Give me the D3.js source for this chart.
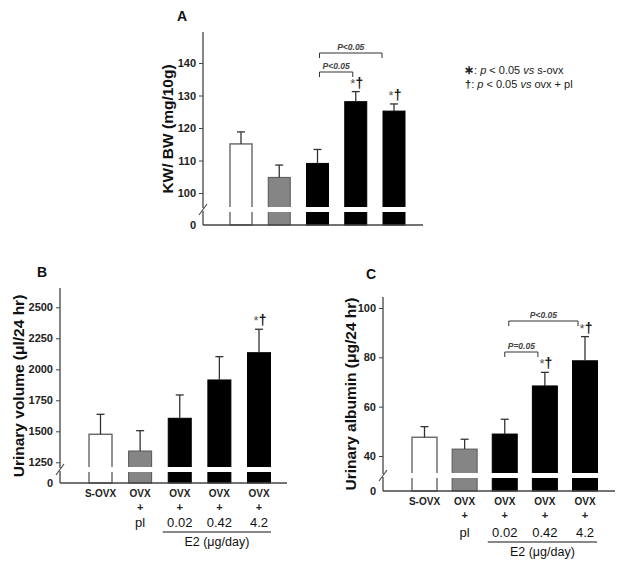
<!DOCTYPE html>
<html><head><meta charset="utf-8">
<script src="https://cdn.jsdelivr.net/npm/d3@7"></script>
<style>
body{margin:0;background:#fff;}
svg{display:block;font-family:"Liberation Sans",Arial,sans-serif;}
</style></head>
<body>
<svg id="chart" width="624" height="565"></svg>
<script>
// ---- data ----
const groups = ["S-OVX", "OVX + pl", "OVX + 0.02", "OVX + 0.42", "OVX + 4.2"];
const labelLine1 = ["S-OVX", "OVX", "OVX", "OVX", "OVX"];
const labelLine2 = ["", "+", "+", "+", "+"];
const labelLine3 = ["", "pl", "0.02", "0.42", "4.2"];
const barFills = ["#ffffff", "#858585", "#000000", "#000000", "#000000"];

const kwbwMean = [115.1, 104.8, 109.1, 128.1, 125.2];
const kwbwErr  = [3.7, 3.8, 4.3, 3.1, 2.2];
const kwbwTicks = [100, 110, 120, 130, 140];
const kwbwSig = ["", "", "", "*†", "*†"];

const volMean = [1476, 1341, 1605, 1914, 2134];
const volErr  = [161, 164, 188, 188, 189];
const volTicks = [1250, 1500, 1750, 2000, 2250, 2500];
const volSig = ["", "", "", "", "*†"];

const albMean = [47.6, 42.8, 48.9, 68.4, 78.6];
const albErr  = [4.3, 4.0, 6.0, 5.5, 9.8];
const albTicks = [40, 60, 80, 100];
const albSig = ["", "", "", "*†", "*†"];

const svg = d3.select("#chart");
const axisColor = "#444";
const tickColor = "#222";

function drawPanel(cfg) {
  const g = svg.append("g");
  const y = d3.scaleLinear().domain([cfg.t0, cfg.t1]).range([cfg.y0, cfg.y1]);
  const x = d3.scalePoint().domain(groups).range([cfg.xc0, cfg.xc1]);
  const bw = cfg.barW;

  // bars
  cfg.mean.forEach((m, i) => {
    const cx = x(groups[i]);
    const top = y(m);
    g.append("rect").attr("x", cx - bw/2).attr("y", top)
      .attr("width", bw).attr("height", cfg.zeroY - top)
      .attr("fill", barFills[i])
      .attr("stroke", i === 0 ? "#666" : (i === 1 ? "#555" : "#000"))
      .attr("stroke-width", i === 0 ? 1.4 : 1);
    // error bar
    const et = y(m + cfg.err[i]);
    g.append("line").attr("x1", cx).attr("x2", cx).attr("y1", top).attr("y2", et)
      .attr("stroke", "#333").attr("stroke-width", 1.3);
    g.append("line").attr("x1", cx - 4).attr("x2", cx + 4).attr("y1", et).attr("y2", et)
      .attr("stroke", "#333").attr("stroke-width", 1.3);
    if (cfg.sig[i]) {
      const t = g.append("text").attr("x", cx + 1).attr("y", et - 4)
        .attr("text-anchor", "middle").attr("font-size", 14);
      t.append("tspan").attr("fill", "#555").attr("font-size", 13).text("*");
      t.append("tspan").attr("fill", "#111").attr("font-weight", "bold").text("†");
    }
  });

  // break gap in bars
  g.append("rect").attr("x", cfg.axisX + 8).attr("y", cfg.gapTop)
    .attr("width", cfg.axisEnd - cfg.axisX - 10).attr("height", cfg.gapBot - cfg.gapTop)
    .attr("fill", "#fff");

  // y axis (upper)
  const axis = d3.axisLeft(y).tickValues(cfg.ticks).tickSize(4).tickPadding(3)
    .tickFormat(d3.format("d"));
  const ag = g.append("g").attr("transform", `translate(${cfg.axisX},0)`).call(axis);
  ag.select(".domain").remove();
  ag.selectAll(".tick line").attr("stroke", axisColor);
  ag.selectAll(".tick text").attr("fill", tickColor).attr("font-size", 11)
    .attr("font-weight", "bold").attr("font-family", "Liberation Sans, Arial, sans-serif");
  g.append("line").attr("x1", cfg.axisX).attr("x2", cfg.axisX)
    .attr("y1", cfg.topY).attr("y2", cfg.gapTop + 1).attr("stroke", axisColor).attr("stroke-width", 1.3);
  g.append("line").attr("x1", cfg.axisX).attr("x2", cfg.axisX)
    .attr("y1", cfg.gapBot - 1).attr("y2", cfg.zeroY).attr("stroke", axisColor).attr("stroke-width", 1.3);
  // break slash
  g.append("line").attr("x1", cfg.axisX - 4).attr("x2", cfg.axisX + 4)
    .attr("y1", cfg.gapBot + 3).attr("y2", cfg.gapTop - 3).attr("stroke", axisColor).attr("stroke-width", 1.1);
  // zero tick
  g.append("text").attr("x", cfg.axisX - 7).attr("y", cfg.zeroY + 4)
    .attr("text-anchor", "end").attr("font-size", 11).attr("font-weight", "bold")
    .attr("fill", tickColor).text("0");
  // x axis
  g.append("line").attr("x1", cfg.axisX).attr("x2", cfg.axisEnd)
    .attr("y1", cfg.zeroY).attr("y2", cfg.zeroY).attr("stroke", axisColor).attr("stroke-width", 1.3);

  // y title
  g.append("text").attr("transform", `translate(${cfg.titleX},${cfg.titleY}) rotate(-90)`)
    .attr("text-anchor", "middle").attr("font-size", cfg.titleSize).attr("font-weight", "bold")
    .attr("fill", "#111").text(cfg.title);

  // panel letter
  g.append("text").attr("x", cfg.letterX).attr("y", cfg.letterY)
    .attr("font-size", 14).attr("font-weight", "bold").attr("fill", "#111").text(cfg.letter);

  // brackets
  (cfg.brackets || []).forEach(b => {
    const xa = x(groups[b.from]) + b.da, xb = x(groups[b.to]) + b.db;
    g.append("path").attr("d", `M${xa},${b.y + 5}V${b.y}H${xb}V${b.y + 5}`)
      .attr("fill", "none").attr("stroke", "#333").attr("stroke-width", 1);
    g.append("text").attr("x", (xa + xb) / 2).attr("y", b.y - 3)
      .attr("text-anchor", "middle").attr("font-size", 8.5).attr("font-style", "italic")
      .attr("font-weight", "bold").attr("fill", "#444").text(b.label);
  });

  // x labels
  if (cfg.xLabels) {
    groups.forEach((gr, i) => {
      const cx = x(gr);
      g.append("text").attr("x", cx).attr("y", cfg.xl1).attr("text-anchor", "middle")
        .attr("font-size", 10).attr("font-weight", "bold").attr("fill", "#222").text(labelLine1[i]);
      if (labelLine2[i]) g.append("text").attr("x", cx).attr("y", cfg.xl2).attr("text-anchor", "middle")
        .attr("font-size", 11).attr("font-weight", "bold").attr("fill", "#222").text(labelLine2[i]);
      if (labelLine3[i]) g.append("text").attr("x", cx).attr("y", cfg.xl3).attr("text-anchor", "middle")
        .attr("font-size", 13).attr("fill", "#111").text(labelLine3[i]);
    });
    const ua = x(groups[2]) - 17, ub = x(groups[4]) + 12;
    g.append("line").attr("x1", ua).attr("x2", ub).attr("y1", cfg.xl3 + 5).attr("y2", cfg.xl3 + 5)
      .attr("stroke", "#111").attr("stroke-width", 1);
    g.append("text").attr("x", (ua + ub) / 2).attr("y", cfg.xl3 + 19).attr("text-anchor", "middle")
      .attr("font-size", 12.5).attr("fill", "#111").text("E2 (μg/day)");
  }
}

drawPanel({
  letter: "A", letterX: 177, letterY: 21,
  mean: kwbwMean, err: kwbwErr, ticks: kwbwTicks, sig: kwbwSig,
  t0: 100, t1: 140, y0: 193, y1: 63,
  xc0: 241, xc1: 394, barW: 22,
  axisX: 203, axisEnd: 423, topY: 32, zeroY: 225, gapTop: 207, gapBot: 212,
  title: "KW/ BW (mg/10g)", titleX: 173, titleY: 129, titleSize: 15.5,
  brackets: [
    {from: 2, to: 3, da: 2, db: -3, y: 72, label: "P<0.05"},
    {from: 2, to: 4, da: 2, db: -12, y: 53, label: "P<0.05"}
  ],
  xLabels: false
});

drawPanel({
  letter: "B", letterX: 37, letterY: 277,
  mean: volMean, err: volErr, ticks: volTicks, sig: volSig,
  t0: 1250, t1: 2500, y0: 462.3, y1: 307.3,
  xc0: 100.5, xc1: 259, barW: 23,
  axisX: 60, axisEnd: 287, topY: 288, zeroY: 483, gapTop: 467, gapBot: 472,
  title: "Urinary volume (μl/24 hr)", titleX: 24, titleY: 386, titleSize: 15.5,
  xLabels: true, xl1: 497, xl2: 511, xl3: 527
});

drawPanel({
  letter: "C", letterX: 366, letterY: 279,
  mean: albMean, err: albErr, ticks: albTicks, sig: albSig,
  t0: 40, t1: 100, y0: 456, y1: 308,
  xc0: 424.5, xc1: 585, barW: 25,
  axisX: 383, axisEnd: 615, topY: 297, zeroY: 491, gapTop: 473, gapBot: 478,
  title: "Urinary albumin (μg/24 hr)", titleX: 356, titleY: 394, titleSize: 15.5,
  brackets: [
    {from: 2, to: 3, da: 0, db: -7, y: 352, label: "P=0.05"},
    {from: 2, to: 4, da: 4, db: -7, y: 321, label: "P<0.05"}
  ],
  xLabels: true, xl1: 505, xl2: 519, xl3: 537
});

// legend
const leg = svg.append("g").attr("font-size", 11).attr("fill", "#222");
const l1 = leg.append("text").attr("x", 464).attr("y", 74);
l1.append("tspan").attr("font-weight", "bold").attr("font-size", 12).text("∗");
l1.append("tspan").text(": ");
l1.append("tspan").attr("font-style", "italic").text("p");
l1.append("tspan").text(" < 0.05 ");
l1.append("tspan").attr("font-style", "italic").text("vs");
l1.append("tspan").text(" s-ovx");
const l2 = leg.append("text").attr("x", 465).attr("y", 88);
l2.append("tspan").attr("font-weight", "bold").text("†");
l2.append("tspan").text(": ");
l2.append("tspan").attr("font-style", "italic").text("p");
l2.append("tspan").text(" < 0.05 ");
l2.append("tspan").attr("font-style", "italic").text("vs");
l2.append("tspan").text(" ovx + pl");
</script>
</body></html>
